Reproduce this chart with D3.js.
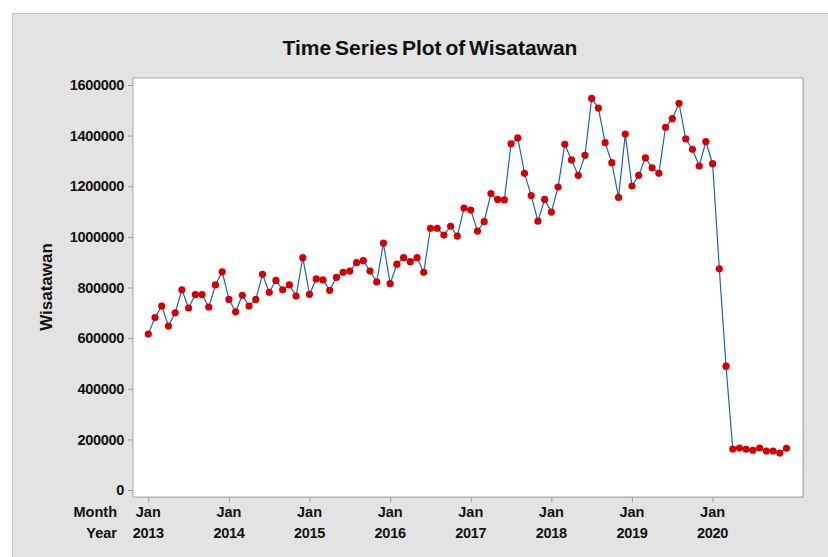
<!DOCTYPE html>
<html>
<head>
<meta charset="utf-8">
<script src="https://cdn.jsdelivr.net/npm/d3@7"></script>
<style>
  body { margin: 0; background: #fff; }
  svg text { font-family: "Liberation Sans", Arial, sans-serif; font-weight: bold; fill: #111; }
</style>
</head>
<body>
<div id="chart"></div>
<script>
// monthly visitors, Jan 2013 .. Dec 2020
var wisatawan = [
  616000, 681000, 727000, 648000, 700000, 791000, 719000, 772000, 772000, 723000, 810000, 862000,
  753000, 704000, 769000, 727000, 753000, 852000, 781000, 828000, 791000, 810000, 766000, 918000,
  773000, 834000, 830000, 789000, 840000, 860000, 865000, 898000, 906000, 865000, 822000, 975000,
  815000, 892000, 918000, 902000, 918000, 860000, 1034000, 1034000, 1007000, 1042000, 1003000, 1114000,
  1106000, 1023000, 1060000, 1171000, 1148000, 1146000, 1368000, 1391000, 1251000, 1163000, 1062000, 1148000,
  1098000, 1197000, 1366000, 1304000, 1243000, 1322000, 1547000, 1509000, 1372000, 1293000, 1156000, 1406000,
  1201000, 1243000, 1312000, 1273000, 1251000, 1433000, 1467000, 1528000, 1387000, 1346000, 1280000, 1376000,
  1289000, 874000, 489000, 162000, 166000, 161000, 157000, 166000, 154000, 154000, 146000, 165000
];
var yearLabels = ["2013", "2014", "2015", "2016", "2017", "2018", "2019", "2020"];
var monthLabel = "Jan";
var yTicks = [0, 200000, 400000, 600000, 800000, 1000000, 1200000, 1400000, 1600000];

var W = 828, H = 557;
var plot = {left: 133, top: 78, right: 803, bottom: 497};

var svg = d3.select("#chart").append("svg")
    .attr("width", W)
    .attr("height", H);

// grey panel
svg.append("rect")
    .attr("x", 12.5).attr("y", 13.5)
    .attr("width", W).attr("height", H)
    .attr("fill", "#e3e3e3")
    .attr("stroke", "#c9c9c9");

// plot area
svg.append("rect")
    .attr("x", plot.left + 1).attr("y", plot.top + 1)
    .attr("width", plot.right - plot.left).attr("height", plot.bottom - plot.top)
    .attr("fill", "#c4c4c4");
svg.append("rect")
    .attr("x", plot.left).attr("y", plot.top)
    .attr("width", plot.right - plot.left).attr("height", plot.bottom - plot.top)
    .attr("fill", "#fff")
    .attr("stroke", "#a8a8a8");

var x = d3.scaleLinear()
    .domain([0, wisatawan.length - 1])
    .range([148.3, 786.5]);

var y = d3.scaleLinear()
    .domain([0, 1600000])
    .range([490, 85]);

// y axis
var yAxis = svg.append("g")
    .attr("transform", "translate(" + plot.left + ",0)")
    .call(d3.axisLeft(y).tickValues(yTicks).tickFormat(d3.format("d")).tickSize(5).tickPadding(4));
yAxis.select(".domain").remove();
yAxis.selectAll("line").attr("stroke", "#999");
yAxis.selectAll("text").style("font-size", "14.5px").style("letter-spacing", "-0.3px");

// x axis
var xTickIdx = yearLabels.map(function(d, i) { return i * 12; });
var xAxis = svg.append("g")
    .attr("transform", "translate(0," + plot.bottom + ")")
    .call(d3.axisBottom(x).tickValues(xTickIdx).tickFormat("").tickSize(5));
xAxis.select(".domain").remove();
xAxis.selectAll("line").attr("stroke", "#999");

svg.selectAll(".monthLab")
    .data(xTickIdx)
    .enter().append("text")
    .attr("class", "monthLab")
    .attr("x", function(d) { return x(d); })
    .attr("y", 517)
    .attr("text-anchor", "middle")
    .style("font-size", "14.5px")
    .text(monthLabel);

svg.selectAll(".yearLab")
    .data(yearLabels)
    .enter().append("text")
    .attr("class", "yearLab")
    .attr("x", function(d, i) { return x(i * 12); })
    .attr("y", 538)
    .attr("text-anchor", "middle")
    .style("font-size", "14.5px")
    .style("letter-spacing", "-0.3px")
    .text(function(d) { return d; });

svg.append("text")
    .attr("x", 117).attr("y", 517)
    .attr("text-anchor", "end")
    .style("font-size", "14.5px")
    .text("Month");
svg.append("text")
    .attr("x", 117).attr("y", 538)
    .attr("text-anchor", "end")
    .style("font-size", "14.5px")
    .text("Year");

// title and y label
svg.append("text")
    .attr("x", 430).attr("y", 55)
    .attr("text-anchor", "middle")
    .style("font-size", "21px")
    .style("word-spacing", "-2px")
    .text("Time Series Plot of Wisatawan");

svg.append("text")
    .attr("transform", "translate(52,287) rotate(-90)")
    .attr("text-anchor", "middle")
    .style("font-size", "17px")
    .text("Wisatawan");

// series
var line = d3.line()
    .x(function(d, i) { return x(i); })
    .y(function(d) { return y(d); });

svg.append("path")
    .datum(wisatawan)
    .attr("fill", "none")
    .attr("stroke", "#1c64b8")
    .attr("stroke-width", 1.2)
    .attr("d", line);

svg.selectAll(".dot")
    .data(wisatawan)
    .enter().append("circle")
    .attr("class", "dot")
    .attr("cx", function(d, i) { return x(i); })
    .attr("cy", function(d) { return y(d); })
    .attr("r", 3.6)
    .attr("fill", "#d40000");
</script>
</body>
</html>
